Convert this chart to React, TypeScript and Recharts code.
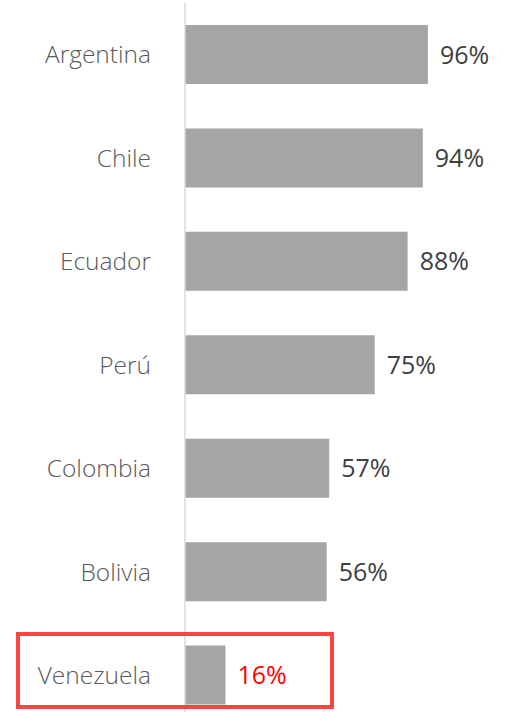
import React from 'react';
import { BarChart, Bar, XAxis, YAxis, LabelList, Cell } from 'recharts';

const countries = ['Argentina', 'Chile', 'Ecuador', 'Perú', 'Colombia', 'Bolivia', 'Venezuela'];
const shares = [96, 94, 88, 75, 57, 56, 16];
const highlight = 'Venezuela';

const data = countries.map((name, i) => ({ name, value: shares[i] }));

const FONT = '"Open Sans", "Noto Sans", sans-serif';

const ValueLabel = (props: any) => {
  const { x, y, width, height, value, index } = props;
  const isHi = countries[index] === highlight;
  return (
    <text
      x={x + width + 12}
      y={y + height / 2}
      dy="0.36em"
      fill={isHi ? '#FF0000' : '#404040'}
      fontSize={25}
      fontFamily={FONT}
    >
      {value}%
    </text>
  );
};

export default function App() {
  return (
    <div style={{ position: 'absolute', top: 0, left: 0, width: 515, height: 730 }}>
      <BarChart
        width={515}
        height={730}
        data={data}
        layout="vertical"
        margin={{ top: 3, right: 77, bottom: 3, left: 0 }}
        barCategoryGap={22}
      >
        <XAxis type="number" domain={[0, 100]} hide />
        <YAxis
          type="category"
          dataKey="name"
          width={185}
          tickLine={false}
          axisLine={{ stroke: '#D9D9D9', strokeWidth: 1.5 }}
          tickMargin={28}
          tick={{ fill: '#595959', fontSize: 24.5, fontFamily: FONT, fontWeight: 300 }}
        />
        <Bar dataKey="value" fill="#A5A5A5" isAnimationActive={false}>
          {data.map((d) => (
            <Cell key={d.name} fill="#A5A5A5" />
          ))}
          <LabelList dataKey="value" content={<ValueLabel />} />
        </Bar>
      </BarChart>
      <div
        style={{
          position: 'absolute',
          left: 16,
          top: 632,
          width: 318,
          height: 77,
          border: '4px solid #FF4343',
          boxSizing: 'border-box',
          pointerEvents: 'none',
        }}
      />
    </div>
  );
}
